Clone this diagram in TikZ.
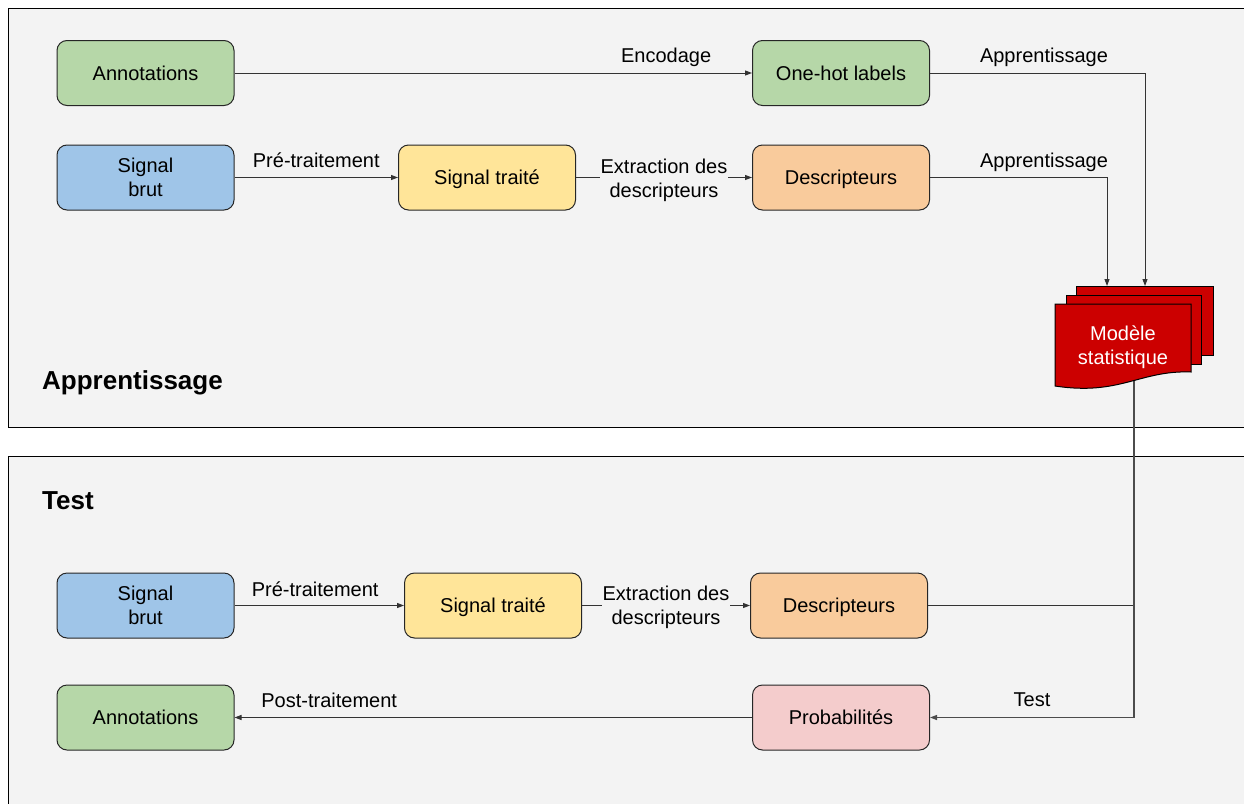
\documentclass[tikz,border=0pt]{standalone}
\usepackage{fontspec}
\setmainfont{Liberation Sans}
\usetikzlibrary{arrows.meta}
\definecolor{pan}{HTML}{F3F3F3}
\definecolor{cgreen}{HTML}{B6D7A8}
\definecolor{cblue}{HTML}{9FC5E8}
\definecolor{cyellow}{HTML}{FFE599}
\definecolor{corange}{HTML}{F9CB9C}
\definecolor{cred}{HTML}{F4CCCC}
\definecolor{mred}{HTML}{CC0000}
\begin{document}
\begin{tikzpicture}[x=1pt,y=-1pt,
 boxml/.style={draw=black!85,line width=1pt,rounded corners=10pt,minimum width=177pt,minimum height=65pt,align=center,font=\fontsize{20}{24}\selectfont,inner sep=0pt},
 box/.style={boxml,text height=14pt,text depth=0pt},
 conn/.style={draw=black!80,line width=1pt,-{Triangle[length=7pt,width=5pt]}},
 plain/.style={draw=black!80,line width=1pt},
 labml/.style={font=\fontsize{20}{24}\selectfont,align=center,inner sep=1pt},
 lab/.style={labml,text height=15pt,text depth=4pt},
 title/.style={font=\fontsize{26}{30}\selectfont\bfseries,anchor=west,inner sep=0pt,text height=19pt,text depth=0pt},
 panel/.style={fill=pan,draw=black,line width=1pt},
 doc/.style={fill=mred,draw=black,line width=1pt}]
\useasboundingbox (0,0) rectangle (1244,803);
\fill[white] (0,0) rectangle (1244,803);
\draw[panel] (8,8) rectangle (1252,427);
\draw[panel] (8,456) rectangle (1252,812);
\node[title] (t1) at (42,380) {Apprentissage};
\node[title] (t2) at (42,500) {Test};
% top nodes
\node[box,fill=cgreen] (ann1) at (145.5,73) {Annotations};
\node[box,fill=cgreen] (oh) at (841,73) {One-hot labels};
\node[boxml,fill=cblue] (sb1) at (145.5,177.5) {Signal\\brut};
\node[box,fill=cyellow] (st1) at (487,177.5) {Signal traité};
\node[box,fill=corange] (d1) at (841,177.5) {Descripteurs};
% bottom nodes
\node[boxml,fill=cblue] (sb2) at (145.5,605.5) {Signal\\brut};
\node[box,fill=cyellow] (st2) at (493,605.5) {Signal traité};
\node[box,fill=corange] (d2) at (839,605.5) {Descripteurs};
\node[box,fill=cgreen] (ann2) at (145.5,717.5) {Annotations};
\node[box,fill=cred] (prob) at (841,717.5) {Probabilités};
% model coordinates
\coordinate (mtop1) at (1107,286);
\coordinate (mtop2) at (1145,286);
\coordinate (mbot) at (1134,375);
% connectors
\draw[conn] (ann1) -- node[lab,pos=0.834,above=5pt] {Encodage} (oh);
\draw[conn] (oh.east) -- node[lab,pos=0.53,above=5pt] {Apprentissage} (oh.east -| mtop2) -- (mtop2);
\draw[conn] (d1.east) -- node[lab,pos=0.644,above=5pt] {Apprentissage} (d1.east -| mtop1) -- (mtop1);
\draw[conn] (sb1) -- node[lab,above=5pt] {Pré-traitement} (st1);
\draw[conn] (st1) -- node[labml,fill=pan,yshift=-2.5pt] {Extraction des\\descripteurs} (d1);
\draw[conn] (sb2) -- node[lab,pos=0.476,above=4pt] {Pré-traitement} (st2);
\draw[conn] (st2) -- node[labml,fill=pan,yshift=-1.5pt] {Extraction des\\descripteurs} (d2);
\draw[plain] (d2.east) -- (d2.east -| mbot);
\draw[conn,draw=black!70,line width=1.3pt] (mbot) -- (mbot |- prob.east) -- node[lab,above=5pt] {Test} (prob.east);
\draw[conn] (prob) -- node[lab,pos=0.817,above=5pt] {Post-traitement} (ann2);
% model shape
\filldraw[doc] (1076,286) rectangle (1213,355);
\filldraw[doc] (1066,295) rectangle (1201,364);
\filldraw[doc] (1055,304) -- (1191,304) -- (1191,372) .. controls (1140,370) and (1120,396) .. (1055,386) -- cycle;
\node[labml,text=white] (model) at (1123,347) {Modèle\\statistique};
\end{tikzpicture}
\end{document}
